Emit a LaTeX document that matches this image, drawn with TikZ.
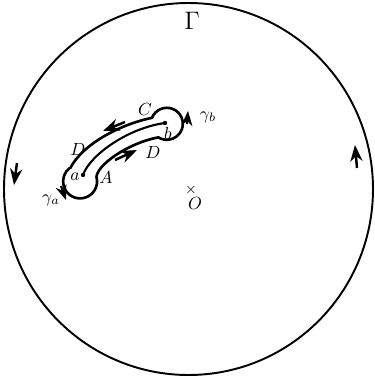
\documentclass[tikz,border=0pt]{standalone}
\usepackage{amsmath, amssymb}
\usepackage{tikz}
\usetikzlibrary{arrows.meta, positioning, calc}

\begin{document}
\begin{tikzpicture}[x=0.02cm, y=0.02cm,
    lbl/.style={font=\normalsize, inner sep=1pt},
    contour/.style={line width=1.5pt, line join=round},
    flow/.style={->, >=Stealth, line width=1.4pt}]
    \useasboundingbox (0,0) rectangle (375,383);

    % Outer contour Gamma
    \draw[line width=1.1pt] (188.5,194) ellipse [x radius=184.5, y radius=186];
    \node[font=\Large] (Gam) at (192,362) {$\Gamma$};

    % Direction on Gamma
    \draw[flow] (17,220) -- (14,198);
    \draw[flow] (357,215) -- (355,238);

    % Origin
    \node[inner sep=0pt, font=\footnotesize] (orig) at (191,193) {$\times$};
    \node[lbl] (O) at (195,180) {$O$};

    % Branch points and the cut joining them
    \coordinate (a) at (83,208);
    \coordinate (b) at (165,260);
    \fill (a) circle (2.2) (b) circle (2.2);
    \draw[line width=1.2pt] (a) .. controls (90,228) and (128,255) .. (b);
    \node[lbl] (alab) at (75,206) {$a$};
    \node[lbl] (blab) at (168,250) {$b$};

    % Keyhole contour round the cut
    \draw[contour] (70.1,214.6) .. controls (82,238) and (118,258) .. (152,265.2)
        arc[start angle=158, end angle=-122, radius=16]
        .. controls (128,240) and (97,218) .. (96.5,206)
        arc[start angle=15, end angle=-232, radius=17];

    % Labels on the keyhole
    \node[lbl] (C) at (145,274) {$C$};
    \node[lbl] (Dup) at (78,234) {$D$};
    \node[lbl] (Dlow) at (153,231) {$D$};
    \node[lbl] (A) at (106,206) {$A$};

    % Directions along the channel
    \draw[flow] (125,261) -- (103,252);
    \draw[flow] (115,223) -- (137,233);

    % Small circles gamma_a and gamma_b
    \draw[flow, line width=1.2pt] (187,259) -- (188,272);
    \node[lbl] (gb) at (208,266) {$\gamma_b$};
    \draw[flow, line width=1.2pt] (61,197) -- (66,183);
    \node[lbl] (ga) at (51,183) {$\gamma_a$};
\end{tikzpicture}
\end{document}
